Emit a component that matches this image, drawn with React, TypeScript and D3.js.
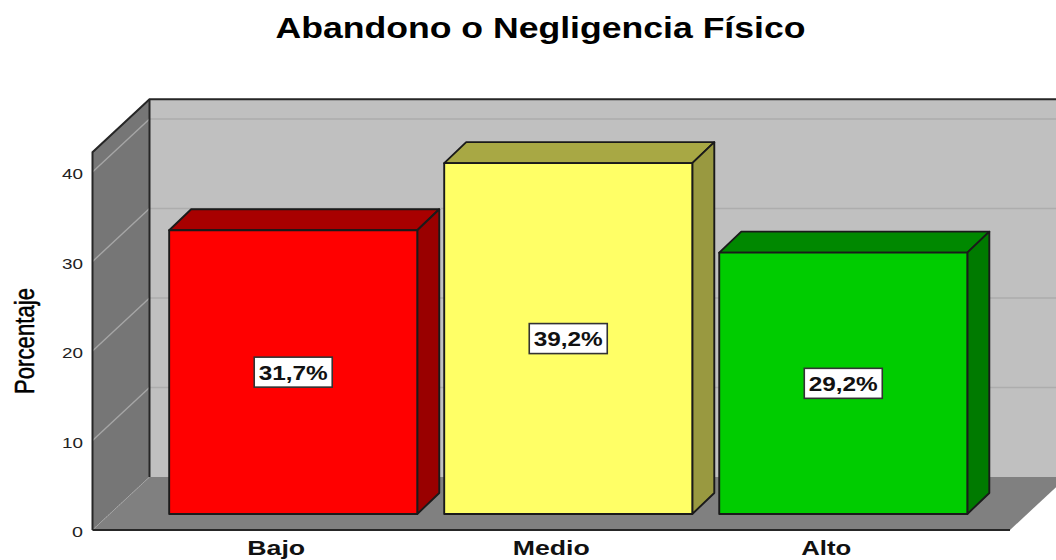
import React from "react";
import * as d3 from "d3";

const title = "Abandono o Negligencia Físico";
const yAxisLabel = "Porcentaje";
const categories = ["Bajo", "Medio", "Alto"];
const values = [31.7, 39.2, 29.2];
const valueLabels = ["31,7%", "39,2%", "29,2%"];
const frontColors = ["#ff0000", "#ffff66", "#00cc00"];
const topColors = ["#a80000", "#a8a844", "#008800"];
const sideColors = ["#990000", "#999940", "#007a00"];
const yTicks = [0, 10, 20, 30, 40];

const width = 1056;
const height = 560;
// front plane of the 3d box
const frontLeft = 92.5;
const frontRight = 1010;
const frontBottom = 530;
const frontTop = 172;
const depth = { x: 57, y: -53 };
const barDepth = { x: 22, y: -21 };
const barShift = { x: 17, y: -16 };
const yMaxShown = 42.2;

const y = d3.scaleLinear().domain([0, 40]).range([frontBottom, frontTop]);
const x = d3
  .scaleBand<string>()
  .domain(categories)
  .range([frontLeft, frontRight])
  .paddingInner(0.098)
  .paddingOuter(0.217);

const poly = d3.line();
type Pt = [number, number];
const pts = (...p: Pt[]) => poly(p) + "Z";

export default function App() {
  const top = y(yMaxShown);
  const back = (p: Pt): Pt => [p[0] + depth.x, p[1] + depth.y];
  const bl: Pt = [frontLeft, frontBottom];
  const br: Pt = [frontRight, frontBottom];
  const tl: Pt = [frontLeft, top];
  const tr: Pt = [frontRight, top];
  const sans = "'Liberation Sans', Arial, sans-serif";

  return (
    <svg
      width={width}
      height={height}
      style={{ position: "absolute", left: 0, top: 0, background: "#fff" }}
    >
      <text
        x={540.5}
        y={38}
        textAnchor="middle"
        fontFamily={sans}
        fontWeight="bold"
        fontSize={29}
        textLength={530}
        lengthAdjust="spacingAndGlyphs"
        fill="#000"
      >
        {title}
      </text>

      {/* back wall, left wall, floor */}
      <path d={pts(back(tl), back(tr), back(br), back(bl))} fill="#c0c0c0" />
      <path d={pts(tl, back(tl), back(bl), bl)} fill="#767676" />
      <path d={pts(bl, back(bl), back(br), br)} fill="#808080" />

      {yTicks.slice(1).map((t) => {
        const p: Pt = [frontLeft, y(t)];
        const b = back(p);
        return (
          <g key={t} fill="none">
            <line x1={p[0]} y1={p[1]} x2={b[0]} y2={b[1]} stroke="#a6a6a6" strokeWidth={1.4} />
            <line x1={b[0]} y1={b[1]} x2={width} y2={b[1]} stroke="#adadad" strokeWidth={1.4} />
          </g>
        );
      })}
      <line x1={bl[0]} y1={bl[1]} x2={back(bl)[0]} y2={back(bl)[1]} stroke="#a6a6a6" strokeWidth={1} strokeDasharray="2 1" />

      {/* box edges */}
      <g fill="none" stroke="#262626" strokeWidth={2}>
        <path d={poly([bl, tl, back(tl), [width, back(tl)[1]]]) ?? ""} />
        <path d={poly([back(tl), back(bl)]) ?? ""} />
        <path d={poly([bl, br]) ?? ""} />
      </g>

      {categories.map((c, i) => {
        const x0 = x(c)! + barShift.x;
        const x1 = x0 + x.bandwidth();
        const yTop = y(values[i]) + barShift.y;
        const yBase = y(0) + barShift.y;
        return (
          <g key={c} stroke="#1a1a1a" strokeWidth={1.9} strokeLinejoin="round">
            <path
              d={pts([x0, yTop], [x0 + barDepth.x, yTop + barDepth.y], [x1 + barDepth.x, yTop + barDepth.y], [x1, yTop])}
              fill={topColors[i]}
            />
            <path
              d={pts([x1, yTop], [x1 + barDepth.x, yTop + barDepth.y], [x1 + barDepth.x, yBase + barDepth.y], [x1, yBase])}
              fill={sideColors[i]}
            />
            <rect x={x0} y={yTop} width={x.bandwidth()} height={yBase - yTop} fill={frontColors[i]} />
          </g>
        );
      })}

      {categories.map((c, i) => {
        const cx = x(c)! + barShift.x + x.bandwidth() / 2;
        const cy = (y(values[i]) + y(0)) / 2 + barShift.y;
        return (
          <g key={c}>
            <rect x={cx - 39} y={cy - 15} width={78} height={30} fill="#fff" stroke="#333" strokeWidth={1.6} />
            <text
              x={cx}
              y={cy + 7.5}
              textAnchor="middle"
              fontFamily={sans}
              fontWeight="bold"
              fontSize={21}
              textLength={69}
              lengthAdjust="spacingAndGlyphs"
              fill="#111"
            >
              {valueLabels[i]}
            </text>
          </g>
        );
      })}

      {yTicks.map((t) => (
        <text
          key={t}
          x={83}
          y={y(t) + 7}
          textAnchor="end"
          fontFamily={sans}
          fontSize={14.5}
          textLength={t === 0 ? 11 : 21}
          lengthAdjust="spacingAndGlyphs"
          fill="#222"
        >
          {t}
        </text>
      ))}

      <text
        transform="translate(34,341) rotate(-90)"
        textAnchor="middle"
        fontFamily={sans}
        fontSize={27}
        textLength={106}
        lengthAdjust="spacingAndGlyphs"
        stroke="#000"
        strokeWidth={0.5}
        fill="#000"
      >
        {yAxisLabel}
      </text>

      {categories.map((c) => (
        <text
          key={c}
          x={x(c)! + x.bandwidth() / 2}
          y={555}
          textAnchor="middle"
          fontFamily={sans}
          fontWeight="bold"
          fontSize={21}
          fill="#111"
          textLength={c === "Medio" ? 77 : c === "Bajo" ? 58 : 50}
          lengthAdjust="spacingAndGlyphs"
        >
          {c}
        </text>
      ))}
    </svg>
  );
}
